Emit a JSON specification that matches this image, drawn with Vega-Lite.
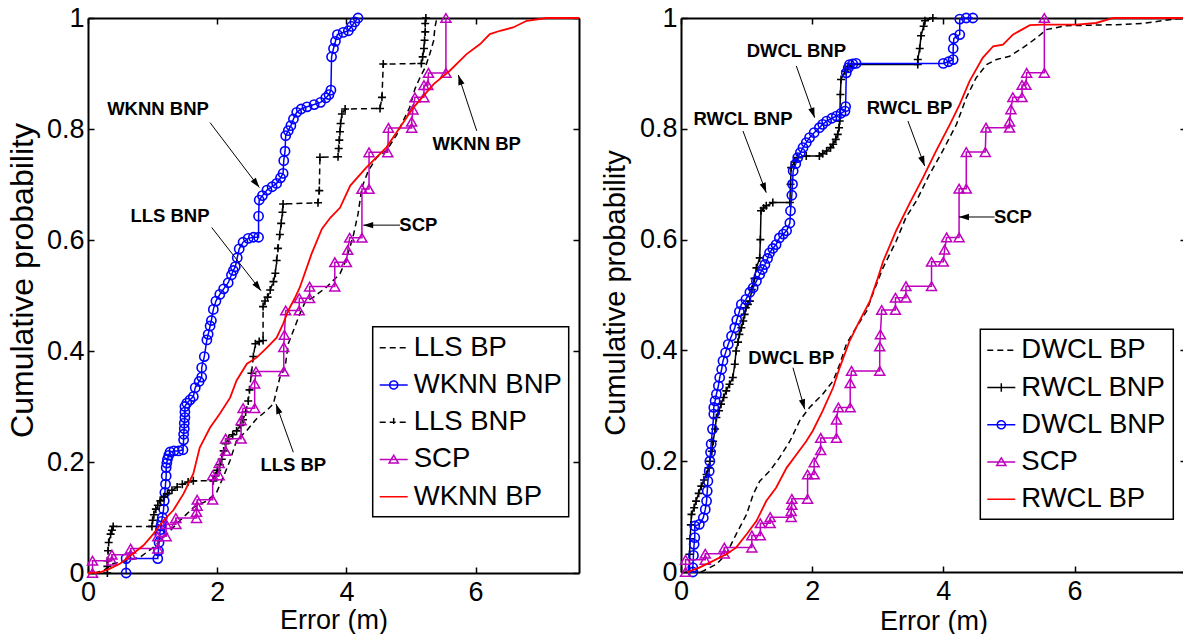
{
  "$schema": "https://vega.github.io/schema/vega-lite/v6.json",
  "background": "white",
  "padding": {"left": 6, "top": 4, "right": 0, "bottom": 0},
  "spacing": 18,
  "config": {
    "font": "Liberation Sans",
    "view": {"stroke": null},
    "axis": {"domainColor": "black", "domainWidth": 2, "tickColor": "black", "tickWidth": 1.5, "tickSize": -6, "labelColor": "black", "titleColor": "black", "labelFont": "Liberation Sans", "titleFont": "Liberation Sans", "labelFontSize": 27, "titleFontWeight": "normal", "grid": false, "labelFlush": false, "labelOverlap": false},
    "legend": {"strokeWidth": 1.5}
  },
  "datasets": {
    "L": [
      {"s":"LLS BP","x":0.1,"y":0},{"s":"LLS BP","x":0.25,"y":0.005},{"s":"LLS BP","x":0.39,"y":0.017},{"s":"LLS BP","x":0.6,"y":0.022},{"s":"LLS BP","x":0.8,"y":0.028},{"s":"LLS BP","x":1.01,"y":0.046},{"s":"LLS BP","x":1.22,"y":0.07},{"s":"LLS BP","x":1.42,"y":0.094},{"s":"LLS BP","x":1.63,"y":0.118},{"s":"LLS BP","x":1.84,"y":0.13},{"s":"LLS BP","x":1.99,"y":0.145},{"s":"LLS BP","x":2.09,"y":0.172},{"s":"LLS BP","x":2.2,"y":0.203},{"s":"LLS BP","x":2.3,"y":0.239},{"s":"LLS BP","x":2.46,"y":0.257},{"s":"LLS BP","x":2.61,"y":0.278},{"s":"LLS BP","x":2.77,"y":0.293},{"s":"LLS BP","x":2.87,"y":0.305},{"s":"LLS BP","x":2.92,"y":0.329},{"s":"LLS BP","x":2.97,"y":0.352},{"s":"LLS BP","x":3.05,"y":0.37},{"s":"LLS BP","x":3.1,"y":0.413},{"s":"LLS BP","x":3.18,"y":0.437},{"s":"LLS BP","x":3.28,"y":0.467},{"s":"LLS BP","x":3.36,"y":0.488},{"s":"LLS BP","x":3.49,"y":0.497},{"s":"LLS BP","x":3.69,"y":0.515},{"s":"LLS BP","x":3.9,"y":0.539},{"s":"LLS BP","x":3.98,"y":0.56},{"s":"LLS BP","x":4.05,"y":0.585},{"s":"LLS BP","x":4.11,"y":0.61},{"s":"LLS BP","x":4.18,"y":0.647},{"s":"LLS BP","x":4.24,"y":0.695},{"s":"LLS BP","x":4.34,"y":0.725},{"s":"LLS BP","x":4.47,"y":0.749},{"s":"LLS BP","x":4.62,"y":0.761},{"s":"LLS BP","x":4.78,"y":0.79},{"s":"LLS BP","x":4.88,"y":0.815},{"s":"LLS BP","x":4.98,"y":0.839},{"s":"LLS BP","x":5.06,"y":0.872},{"s":"LLS BP","x":5.14,"y":0.893},{"s":"LLS BP","x":5.22,"y":0.911},{"s":"LLS BP","x":5.29,"y":0.935},{"s":"LLS BP","x":5.35,"y":0.959},{"s":"LLS BP","x":5.37,"y":0.983},{"s":"LLS BP","x":5.4,"y":1},

      {"s":"WKNN BNP","x":0.59,"y":0},{"s":"WKNN BNP","x":0.59,"y":0.026},{"s":"WKNN BNP","x":1.08,"y":0.026},{"s":"WKNN BNP","x":1.09,"y":0.04},{"s":"WKNN BNP","x":1.1,"y":0.055},{"s":"WKNN BNP","x":1.11,"y":0.07},{"s":"WKNN BNP","x":1.12,"y":0.078},{"s":"WKNN BNP","x":1.13,"y":0.085},{"s":"WKNN BNP","x":1.14,"y":0.093},{"s":"WKNN BNP","x":1.15,"y":0.1},{"s":"WKNN BNP","x":1.17,"y":0.115},{"s":"WKNN BNP","x":1.18,"y":0.13},{"s":"WKNN BNP","x":1.19,"y":0.145},{"s":"WKNN BNP","x":1.2,"y":0.16},{"s":"WKNN BNP","x":1.21,"y":0.175},{"s":"WKNN BNP","x":1.21,"y":0.19},{"s":"WKNN BNP","x":1.22,"y":0.198},{"s":"WKNN BNP","x":1.23,"y":0.205},{"s":"WKNN BNP","x":1.25,"y":0.212},{"s":"WKNN BNP","x":1.27,"y":0.218},{"s":"WKNN BNP","x":1.33,"y":0.22},{"s":"WKNN BNP","x":1.4,"y":0.22},{"s":"WKNN BNP","x":1.47,"y":0.222},{"s":"WKNN BNP","x":1.48,"y":0.24},{"s":"WKNN BNP","x":1.48,"y":0.25},{"s":"WKNN BNP","x":1.49,"y":0.26},{"s":"WKNN BNP","x":1.49,"y":0.27},{"s":"WKNN BNP","x":1.5,"y":0.28},{"s":"WKNN BNP","x":1.5,"y":0.29},{"s":"WKNN BNP","x":1.5,"y":0.3},{"s":"WKNN BNP","x":1.53,"y":0.306},{"s":"WKNN BNP","x":1.58,"y":0.312},{"s":"WKNN BNP","x":1.63,"y":0.318},{"s":"WKNN BNP","x":1.66,"y":0.334},{"s":"WKNN BNP","x":1.72,"y":0.345},{"s":"WKNN BNP","x":1.76,"y":0.353},{"s":"WKNN BNP","x":1.76,"y":0.37},{"s":"WKNN BNP","x":1.8,"y":0.39},{"s":"WKNN BNP","x":1.84,"y":0.42},{"s":"WKNN BNP","x":1.86,"y":0.43},{"s":"WKNN BNP","x":1.89,"y":0.445},{"s":"WKNN BNP","x":1.91,"y":0.455},{"s":"WKNN BNP","x":1.94,"y":0.475},{"s":"WKNN BNP","x":1.98,"y":0.49},{"s":"WKNN BNP","x":2.04,"y":0.502},{"s":"WKNN BNP","x":2.1,"y":0.512},{"s":"WKNN BNP","x":2.17,"y":0.523},{"s":"WKNN BNP","x":2.22,"y":0.537},{"s":"WKNN BNP","x":2.25,"y":0.545},{"s":"WKNN BNP","x":2.28,"y":0.552},{"s":"WKNN BNP","x":2.31,"y":0.568},{"s":"WKNN BNP","x":2.34,"y":0.584},{"s":"WKNN BNP","x":2.4,"y":0.596},{"s":"WKNN BNP","x":2.48,"y":0.603},{"s":"WKNN BNP","x":2.56,"y":0.605},{"s":"WKNN BNP","x":2.64,"y":0.605},{"s":"WKNN BNP","x":2.64,"y":0.643},{"s":"WKNN BNP","x":2.65,"y":0.672},{"s":"WKNN BNP","x":2.7,"y":0.68},{"s":"WKNN BNP","x":2.77,"y":0.69},{"s":"WKNN BNP","x":2.85,"y":0.696},{"s":"WKNN BNP","x":2.92,"y":0.702},{"s":"WKNN BNP","x":2.98,"y":0.712},{"s":"WKNN BNP","x":3.02,"y":0.72},{"s":"WKNN BNP","x":3.03,"y":0.743},{"s":"WKNN BNP","x":3.05,"y":0.76},{"s":"WKNN BNP","x":3.06,"y":0.788},{"s":"WKNN BNP","x":3.1,"y":0.797},{"s":"WKNN BNP","x":3.14,"y":0.806},{"s":"WKNN BNP","x":3.18,"y":0.818},{"s":"WKNN BNP","x":3.23,"y":0.83},{"s":"WKNN BNP","x":3.3,"y":0.836},{"s":"WKNN BNP","x":3.39,"y":0.84},{"s":"WKNN BNP","x":3.5,"y":0.844},{"s":"WKNN BNP","x":3.6,"y":0.848},{"s":"WKNN BNP","x":3.68,"y":0.856},{"s":"WKNN BNP","x":3.73,"y":0.862},{"s":"WKNN BNP","x":3.76,"y":0.87},{"s":"WKNN BNP","x":3.77,"y":0.93},{"s":"WKNN BNP","x":3.8,"y":0.945},{"s":"WKNN BNP","x":3.83,"y":0.958},{"s":"WKNN BNP","x":3.86,"y":0.97},{"s":"WKNN BNP","x":3.95,"y":0.974},{"s":"WKNN BNP","x":4.03,"y":0.977},{"s":"WKNN BNP","x":4.08,"y":0.985},{"s":"WKNN BNP","x":4.13,"y":0.993},{"s":"WKNN BNP","x":4.18,"y":1},

      {"s":"LLS BNP","x":0.3,"y":0},{"s":"LLS BNP","x":0.3,"y":0.012},{"s":"LLS BNP","x":0.3,"y":0.022},{"s":"LLS BNP","x":0.31,"y":0.04},{"s":"LLS BNP","x":0.32,"y":0.055},{"s":"LLS BNP","x":0.35,"y":0.07},{"s":"LLS BNP","x":0.37,"y":0.077},{"s":"LLS BNP","x":0.39,"y":0.084},{"s":"LLS BNP","x":0.99,"y":0.084},{"s":"LLS BNP","x":1.0,"y":0.095},{"s":"LLS BNP","x":1.02,"y":0.105},{"s":"LLS BNP","x":1.05,"y":0.115},{"s":"LLS BNP","x":1.08,"y":0.122},{"s":"LLS BNP","x":1.12,"y":0.13},{"s":"LLS BNP","x":1.17,"y":0.137},{"s":"LLS BNP","x":1.23,"y":0.143},{"s":"LLS BNP","x":1.3,"y":0.149},{"s":"LLS BNP","x":1.38,"y":0.155},{"s":"LLS BNP","x":1.46,"y":0.16},{"s":"LLS BNP","x":1.55,"y":0.164},{"s":"LLS BNP","x":1.63,"y":0.166},{"s":"LLS BNP","x":1.94,"y":0.166},{"s":"LLS BNP","x":1.97,"y":0.175},{"s":"LLS BNP","x":2.0,"y":0.185},{"s":"LLS BNP","x":2.04,"y":0.195},{"s":"LLS BNP","x":2.07,"y":0.205},{"s":"LLS BNP","x":2.1,"y":0.22},{"s":"LLS BNP","x":2.13,"y":0.233},{"s":"LLS BNP","x":2.18,"y":0.242},{"s":"LLS BNP","x":2.24,"y":0.249},{"s":"LLS BNP","x":2.3,"y":0.256},{"s":"LLS BNP","x":2.36,"y":0.266},{"s":"LLS BNP","x":2.4,"y":0.276},{"s":"LLS BNP","x":2.44,"y":0.29},{"s":"LLS BNP","x":2.48,"y":0.31},{"s":"LLS BNP","x":2.5,"y":0.33},{"s":"LLS BNP","x":2.53,"y":0.36},{"s":"LLS BNP","x":2.56,"y":0.39},{"s":"LLS BNP","x":2.59,"y":0.413},{"s":"LLS BNP","x":2.65,"y":0.417},{"s":"LLS BNP","x":2.71,"y":0.419},{"s":"LLS BNP","x":2.71,"y":0.48},{"s":"LLS BNP","x":2.74,"y":0.49},{"s":"LLS BNP","x":2.78,"y":0.497},{"s":"LLS BNP","x":2.82,"y":0.51},{"s":"LLS BNP","x":2.87,"y":0.525},{"s":"LLS BNP","x":2.9,"y":0.54},{"s":"LLS BNP","x":2.92,"y":0.563},{"s":"LLS BNP","x":2.94,"y":0.585},{"s":"LLS BNP","x":2.97,"y":0.61},{"s":"LLS BNP","x":2.99,"y":0.63},{"s":"LLS BNP","x":3.01,"y":0.65},{"s":"LLS BNP","x":3.02,"y":0.665},{"s":"LLS BNP","x":3.56,"y":0.667},{"s":"LLS BNP","x":3.58,"y":0.689},{"s":"LLS BNP","x":3.59,"y":0.749},{"s":"LLS BNP","x":3.87,"y":0.75},{"s":"LLS BNP","x":3.88,"y":0.765},{"s":"LLS BNP","x":3.89,"y":0.78},{"s":"LLS BNP","x":3.9,"y":0.795},{"s":"LLS BNP","x":3.91,"y":0.81},{"s":"LLS BNP","x":3.93,"y":0.827},{"s":"LLS BNP","x":3.98,"y":0.836},{"s":"LLS BNP","x":4.52,"y":0.837},{"s":"LLS BNP","x":4.55,"y":0.857},{"s":"LLS BNP","x":4.57,"y":0.917},{"s":"LLS BNP","x":5.16,"y":0.918},{"s":"LLS BNP","x":5.18,"y":0.93},{"s":"LLS BNP","x":5.2,"y":0.945},{"s":"LLS BNP","x":5.21,"y":0.96},{"s":"LLS BNP","x":5.22,"y":0.975},{"s":"LLS BNP","x":5.22,"y":0.99},{"s":"LLS BNP","x":5.23,"y":1},

      {"s":"WKNN BP","x":0.0,"y":0},{"s":"WKNN BP","x":0.19,"y":0.001},{"s":"WKNN BP","x":0.34,"y":0.008},{"s":"WKNN BP","x":0.5,"y":0.017},{"s":"WKNN BP","x":0.7,"y":0.035},{"s":"WKNN BP","x":0.86,"y":0.05},{"s":"WKNN BP","x":1.01,"y":0.07},{"s":"WKNN BP","x":1.17,"y":0.095},{"s":"WKNN BP","x":1.32,"y":0.113},{"s":"WKNN BP","x":1.48,"y":0.143},{"s":"WKNN BP","x":1.63,"y":0.179},{"s":"WKNN BP","x":1.73,"y":0.226},{"s":"WKNN BP","x":1.89,"y":0.262},{"s":"WKNN BP","x":2.04,"y":0.287},{"s":"WKNN BP","x":2.2,"y":0.316},{"s":"WKNN BP","x":2.3,"y":0.347},{"s":"WKNN BP","x":2.46,"y":0.377},{"s":"WKNN BP","x":2.61,"y":0.388},{"s":"WKNN BP","x":2.77,"y":0.406},{"s":"WKNN BP","x":2.92,"y":0.424},{"s":"WKNN BP","x":3.02,"y":0.449},{"s":"WKNN BP","x":3.1,"y":0.473},{"s":"WKNN BP","x":3.2,"y":0.495},{"s":"WKNN BP","x":3.28,"y":0.515},{"s":"WKNN BP","x":3.46,"y":0.575},{"s":"WKNN BP","x":3.62,"y":0.62},{"s":"WKNN BP","x":3.75,"y":0.64},{"s":"WKNN BP","x":3.9,"y":0.658},{"s":"WKNN BP","x":4.06,"y":0.698},{"s":"WKNN BP","x":4.31,"y":0.731},{"s":"WKNN BP","x":4.62,"y":0.767},{"s":"WKNN BP","x":4.83,"y":0.803},{"s":"WKNN BP","x":5.04,"y":0.839},{"s":"WKNN BP","x":5.35,"y":0.881},{"s":"WKNN BP","x":5.6,"y":0.905},{"s":"WKNN BP","x":5.86,"y":0.935},{"s":"WKNN BP","x":6.07,"y":0.953},{"s":"WKNN BP","x":6.22,"y":0.971},{"s":"WKNN BP","x":6.38,"y":0.977},{"s":"WKNN BP","x":6.58,"y":0.983},{"s":"WKNN BP","x":6.79,"y":0.995},{"s":"WKNN BP","x":7.1,"y":1},{"s":"WKNN BP","x":7.6,"y":1}
    ],
    "S": [
      {"x":0.07,"y":0},{"x":0.07,"y":0.022},{"x":0.37,"y":0.022},{"x":0.37,"y":0.033},{"x":0.66,"y":0.033},{"x":0.66,"y":0.044},{"x":1.08,"y":0.044},{"x":1.08,"y":0.066},{"x":1.21,"y":0.066},{"x":1.21,"y":0.088},{"x":1.36,"y":0.088},{"x":1.36,"y":0.099},{"x":1.68,"y":0.099},{"x":1.68,"y":0.11},{"x":1.69,"y":0.121},{"x":1.69,"y":0.132},{"x":1.93,"y":0.132},{"x":1.93,"y":0.176},{"x":2.03,"y":0.176},{"x":2.03,"y":0.198},{"x":2.13,"y":0.22},{"x":2.13,"y":0.242},{"x":2.37,"y":0.242},{"x":2.37,"y":0.275},{"x":2.4,"y":0.297},{"x":2.58,"y":0.297},{"x":2.58,"y":0.341},{"x":2.6,"y":0.363},{"x":3.03,"y":0.363},{"x":3.03,"y":0.407},{"x":3.04,"y":0.429},{"x":3.06,"y":0.473},{"x":3.27,"y":0.473},{"x":3.27,"y":0.495},{"x":3.43,"y":0.495},{"x":3.43,"y":0.516},{"x":3.82,"y":0.516},{"x":3.82,"y":0.56},{"x":4.0,"y":0.56},{"x":4.02,"y":0.582},{"x":4.05,"y":0.604},{"x":4.24,"y":0.604},{"x":4.24,"y":0.692},{"x":4.35,"y":0.692},{"x":4.35,"y":0.758},{"x":4.64,"y":0.758},{"x":4.65,"y":0.802},{"x":5.01,"y":0.802},{"x":5.01,"y":0.813},{"x":5.03,"y":0.835},{"x":5.06,"y":0.857},{"x":5.2,"y":0.857},{"x":5.2,"y":0.879},{"x":5.26,"y":0.879},{"x":5.27,"y":0.901},{"x":5.54,"y":0.901},{"x":5.54,"y":1}
    ],
    "R": [
      {"s":"DWCL BP","x":0.3,"y":0},{"s":"DWCL BP","x":0.34,"y":0.002},{"s":"DWCL BP","x":0.54,"y":0.014},{"s":"DWCL BP","x":0.69,"y":0.032},{"s":"DWCL BP","x":0.84,"y":0.068},{"s":"DWCL BP","x":1.0,"y":0.104},{"s":"DWCL BP","x":1.1,"y":0.14},{"s":"DWCL BP","x":1.2,"y":0.164},{"s":"DWCL BP","x":1.35,"y":0.182},{"s":"DWCL BP","x":1.5,"y":0.206},{"s":"DWCL BP","x":1.66,"y":0.236},{"s":"DWCL BP","x":1.81,"y":0.273},{"s":"DWCL BP","x":1.96,"y":0.297},{"s":"DWCL BP","x":2.16,"y":0.321},{"s":"DWCL BP","x":2.32,"y":0.345},{"s":"DWCL BP","x":2.42,"y":0.375},{"s":"DWCL BP","x":2.52,"y":0.411},{"s":"DWCL BP","x":2.67,"y":0.441},{"s":"DWCL BP","x":2.83,"y":0.471},{"s":"DWCL BP","x":2.95,"y":0.51},{"s":"DWCL BP","x":3.08,"y":0.549},{"s":"DWCL BP","x":3.28,"y":0.597},{"s":"DWCL BP","x":3.43,"y":0.64},{"s":"DWCL BP","x":3.59,"y":0.67},{"s":"DWCL BP","x":3.79,"y":0.718},{"s":"DWCL BP","x":3.99,"y":0.76},{"s":"DWCL BP","x":4.2,"y":0.808},{"s":"DWCL BP","x":4.35,"y":0.856},{"s":"DWCL BP","x":4.5,"y":0.892},{"s":"DWCL BP","x":4.66,"y":0.916},{"s":"DWCL BP","x":4.81,"y":0.925},{"s":"DWCL BP","x":5.01,"y":0.931},{"s":"DWCL BP","x":5.21,"y":0.946},{"s":"DWCL BP","x":5.42,"y":0.964},{"s":"DWCL BP","x":5.57,"y":0.979},{"s":"DWCL BP","x":5.87,"y":0.986},{"s":"DWCL BP","x":6.23,"y":0.987},{"s":"DWCL BP","x":6.64,"y":0.988},{"s":"DWCL BP","x":7.04,"y":0.99},{"s":"DWCL BP","x":7.45,"y":0.997},{"s":"DWCL BP","x":7.7,"y":1},

      {"s":"RWCL BNP","x":0.13,"y":0},{"s":"RWCL BNP","x":0.13,"y":0.032},{"s":"RWCL BNP","x":0.14,"y":0.06},{"s":"RWCL BNP","x":0.15,"y":0.085},{"s":"RWCL BNP","x":0.16,"y":0.104},{"s":"RWCL BNP","x":0.2,"y":0.116},{"s":"RWCL BNP","x":0.23,"y":0.128},{"s":"RWCL BNP","x":0.27,"y":0.142},{"s":"RWCL BNP","x":0.31,"y":0.155},{"s":"RWCL BNP","x":0.35,"y":0.166},{"s":"RWCL BNP","x":0.39,"y":0.176},{"s":"RWCL BNP","x":0.42,"y":0.188},{"s":"RWCL BNP","x":0.44,"y":0.2},{"s":"RWCL BNP","x":0.47,"y":0.218},{"s":"RWCL BNP","x":0.49,"y":0.236},{"s":"RWCL BNP","x":0.52,"y":0.258},{"s":"RWCL BNP","x":0.54,"y":0.279},{"s":"RWCL BNP","x":0.58,"y":0.291},{"s":"RWCL BNP","x":0.61,"y":0.303},{"s":"RWCL BNP","x":0.65,"y":0.315},{"s":"RWCL BNP","x":0.69,"y":0.327},{"s":"RWCL BNP","x":0.74,"y":0.339},{"s":"RWCL BNP","x":0.79,"y":0.351},{"s":"RWCL BNP","x":0.82,"y":0.375},{"s":"RWCL BNP","x":0.84,"y":0.399},{"s":"RWCL BNP","x":0.87,"y":0.415},{"s":"RWCL BNP","x":0.89,"y":0.429},{"s":"RWCL BNP","x":0.92,"y":0.441},{"s":"RWCL BNP","x":0.95,"y":0.453},{"s":"RWCL BNP","x":0.97,"y":0.465},{"s":"RWCL BNP","x":0.99,"y":0.477},{"s":"RWCL BNP","x":1.02,"y":0.483},{"s":"RWCL BNP","x":1.05,"y":0.489},{"s":"RWCL BNP","x":1.08,"y":0.51},{"s":"RWCL BNP","x":1.12,"y":0.53},{"s":"RWCL BNP","x":1.15,"y":0.549},{"s":"RWCL BNP","x":1.2,"y":0.567},{"s":"RWCL BNP","x":1.21,"y":0.6},{"s":"RWCL BNP","x":1.22,"y":0.652},{"s":"RWCL BNP","x":1.26,"y":0.657},{"s":"RWCL BNP","x":1.3,"y":0.661},{"s":"RWCL BNP","x":1.4,"y":0.667},{"s":"RWCL BNP","x":1.66,"y":0.667},{"s":"RWCL BNP","x":1.67,"y":0.7},{"s":"RWCL BNP","x":1.68,"y":0.73},{"s":"RWCL BNP","x":1.73,"y":0.74},{"s":"RWCL BNP","x":1.78,"y":0.748},{"s":"RWCL BNP","x":1.91,"y":0.751},{"s":"RWCL BNP","x":2.11,"y":0.751},{"s":"RWCL BNP","x":2.16,"y":0.755},{"s":"RWCL BNP","x":2.22,"y":0.76},{"s":"RWCL BNP","x":2.28,"y":0.766},{"s":"RWCL BNP","x":2.32,"y":0.772},{"s":"RWCL BNP","x":2.36,"y":0.781},{"s":"RWCL BNP","x":2.39,"y":0.79},{"s":"RWCL BNP","x":2.41,"y":0.802},{"s":"RWCL BNP","x":2.42,"y":0.814},{"s":"RWCL BNP","x":2.43,"y":0.862},{"s":"RWCL BNP","x":2.44,"y":0.889},{"s":"RWCL BNP","x":2.5,"y":0.904},{"s":"RWCL BNP","x":2.55,"y":0.913},{"s":"RWCL BNP","x":2.6,"y":0.916},{"s":"RWCL BNP","x":3.61,"y":0.916},{"s":"RWCL BNP","x":3.61,"y":0.925},{"s":"RWCL BNP","x":3.64,"y":0.945},{"s":"RWCL BNP","x":3.66,"y":0.968},{"s":"RWCL BNP","x":3.7,"y":0.985},{"s":"RWCL BNP","x":3.72,"y":0.995},{"s":"RWCL BNP","x":3.84,"y":1},

      {"s":"DWCL BNP","x":0.18,"y":0},{"s":"DWCL BNP","x":0.18,"y":0.008},{"s":"DWCL BNP","x":0.19,"y":0.03},{"s":"DWCL BNP","x":0.2,"y":0.05},{"s":"DWCL BNP","x":0.21,"y":0.062},{"s":"DWCL BNP","x":0.21,"y":0.083},{"s":"DWCL BNP","x":0.28,"y":0.086},{"s":"DWCL BNP","x":0.34,"y":0.098},{"s":"DWCL BNP","x":0.37,"y":0.113},{"s":"DWCL BNP","x":0.39,"y":0.128},{"s":"DWCL BNP","x":0.4,"y":0.146},{"s":"DWCL BNP","x":0.41,"y":0.164},{"s":"DWCL BNP","x":0.43,"y":0.182},{"s":"DWCL BNP","x":0.44,"y":0.2},{"s":"DWCL BNP","x":0.45,"y":0.216},{"s":"DWCL BNP","x":0.46,"y":0.231},{"s":"DWCL BNP","x":0.48,"y":0.258},{"s":"DWCL BNP","x":0.5,"y":0.285},{"s":"DWCL BNP","x":0.5,"y":0.297},{"s":"DWCL BNP","x":0.52,"y":0.309},{"s":"DWCL BNP","x":0.54,"y":0.321},{"s":"DWCL BNP","x":0.57,"y":0.336},{"s":"DWCL BNP","x":0.59,"y":0.351},{"s":"DWCL BNP","x":0.62,"y":0.366},{"s":"DWCL BNP","x":0.64,"y":0.381},{"s":"DWCL BNP","x":0.68,"y":0.396},{"s":"DWCL BNP","x":0.72,"y":0.411},{"s":"DWCL BNP","x":0.77,"y":0.426},{"s":"DWCL BNP","x":0.82,"y":0.441},{"s":"DWCL BNP","x":0.85,"y":0.455},{"s":"DWCL BNP","x":0.89,"y":0.47},{"s":"DWCL BNP","x":0.92,"y":0.483},{"s":"DWCL BNP","x":0.99,"y":0.492},{"s":"DWCL BNP","x":1.05,"y":0.505},{"s":"DWCL BNP","x":1.1,"y":0.513},{"s":"DWCL BNP","x":1.15,"y":0.525},{"s":"DWCL BNP","x":1.2,"y":0.537},{"s":"DWCL BNP","x":1.24,"y":0.546},{"s":"DWCL BNP","x":1.28,"y":0.555},{"s":"DWCL BNP","x":1.32,"y":0.566},{"s":"DWCL BNP","x":1.35,"y":0.576},{"s":"DWCL BNP","x":1.4,"y":0.584},{"s":"DWCL BNP","x":1.45,"y":0.591},{"s":"DWCL BNP","x":1.5,"y":0.603},{"s":"DWCL BNP","x":1.56,"y":0.61},{"s":"DWCL BNP","x":1.61,"y":0.616},{"s":"DWCL BNP","x":1.66,"y":0.63},{"s":"DWCL BNP","x":1.67,"y":0.652},{"s":"DWCL BNP","x":1.69,"y":0.68},{"s":"DWCL BNP","x":1.7,"y":0.7},{"s":"DWCL BNP","x":1.71,"y":0.724},{"s":"DWCL BNP","x":1.75,"y":0.737},{"s":"DWCL BNP","x":1.78,"y":0.748},{"s":"DWCL BNP","x":1.82,"y":0.757},{"s":"DWCL BNP","x":1.86,"y":0.766},{"s":"DWCL BNP","x":1.91,"y":0.775},{"s":"DWCL BNP","x":1.96,"y":0.784},{"s":"DWCL BNP","x":2.03,"y":0.793},{"s":"DWCL BNP","x":2.11,"y":0.802},{"s":"DWCL BNP","x":2.16,"y":0.808},{"s":"DWCL BNP","x":2.22,"y":0.814},{"s":"DWCL BNP","x":2.3,"y":0.819},{"s":"DWCL BNP","x":2.37,"y":0.823},{"s":"DWCL BNP","x":2.44,"y":0.828},{"s":"DWCL BNP","x":2.5,"y":0.832},{"s":"DWCL BNP","x":2.51,"y":0.84},{"s":"DWCL BNP","x":2.52,"y":0.901},{"s":"DWCL BNP","x":2.55,"y":0.91},{"s":"DWCL BNP","x":2.57,"y":0.916},{"s":"DWCL BNP","x":2.62,"y":0.917},{"s":"DWCL BNP","x":2.67,"y":0.918},{"s":"DWCL BNP","x":4.0,"y":0.918},{"s":"DWCL BNP","x":4.08,"y":0.921},{"s":"DWCL BNP","x":4.15,"y":0.925},{"s":"DWCL BNP","x":4.15,"y":0.945},{"s":"DWCL BNP","x":4.16,"y":0.963},{"s":"DWCL BNP","x":4.25,"y":0.97},{"s":"DWCL BNP","x":4.25,"y":0.998},{"s":"DWCL BNP","x":4.35,"y":1},{"s":"DWCL BNP","x":4.45,"y":1},

      {"s":"RWCL BP","x":0.1,"y":0},{"s":"RWCL BP","x":0.28,"y":0.008},{"s":"RWCL BP","x":0.49,"y":0.02},{"s":"RWCL BP","x":0.69,"y":0.032},{"s":"RWCL BP","x":0.84,"y":0.044},{"s":"RWCL BP","x":1.0,"y":0.068},{"s":"RWCL BP","x":1.15,"y":0.092},{"s":"RWCL BP","x":1.3,"y":0.128},{"s":"RWCL BP","x":1.45,"y":0.152},{"s":"RWCL BP","x":1.61,"y":0.188},{"s":"RWCL BP","x":1.76,"y":0.212},{"s":"RWCL BP","x":1.91,"y":0.236},{"s":"RWCL BP","x":2.01,"y":0.255},{"s":"RWCL BP","x":2.16,"y":0.291},{"s":"RWCL BP","x":2.32,"y":0.333},{"s":"RWCL BP","x":2.42,"y":0.369},{"s":"RWCL BP","x":2.57,"y":0.417},{"s":"RWCL BP","x":2.72,"y":0.453},{"s":"RWCL BP","x":2.88,"y":0.489},{"s":"RWCL BP","x":3.0,"y":0.53},{"s":"RWCL BP","x":3.08,"y":0.56},{"s":"RWCL BP","x":3.28,"y":0.616},{"s":"RWCL BP","x":3.48,"y":0.664},{"s":"RWCL BP","x":3.69,"y":0.712},{"s":"RWCL BP","x":3.89,"y":0.76},{"s":"RWCL BP","x":4.1,"y":0.808},{"s":"RWCL BP","x":4.25,"y":0.844},{"s":"RWCL BP","x":4.4,"y":0.886},{"s":"RWCL BP","x":4.6,"y":0.928},{"s":"RWCL BP","x":4.76,"y":0.949},{"s":"RWCL BP","x":4.91,"y":0.952},{"s":"RWCL BP","x":5.06,"y":0.97},{"s":"RWCL BP","x":5.32,"y":0.987},{"s":"RWCL BP","x":5.52,"y":0.988},{"s":"RWCL BP","x":6.03,"y":0.988},{"s":"RWCL BP","x":6.33,"y":0.991},{"s":"RWCL BP","x":6.59,"y":1},{"s":"RWCL BP","x":7.7,"y":1}
    ],
    "AL": [
      {"t":"WKNN BNP","tx":1.084,"ty":0.836,"x":1.889,"y":0.8115,"x2":2.652,"y2":0.6945,"a":142.8},
      {"t":"LLS BNP","tx":1.269,"ty":0.6436,"x":1.915,"y":0.6225,"x2":2.678,"y2":0.5086,"a":142.1},
      {"t":"WKNN BP","tx":6.017,"ty":0.7726,"x":6.017,"y":0.7966,"x2":5.732,"y2":0.8974,"a":-18.2},
      {"t":"SCP","tx":5.113,"ty":0.6268,"x":4.83,"y":0.6268,"x2":4.26,"y2":0.6268,"a":-90},
      {"t":"LLS BP","tx":3.178,"ty":0.1948,"x":3.178,"y":0.2175,"x2":2.91,"y2":0.3046,"a":-19.7}
    ],
    "AR": [
      {"t":"DWCL BNP","tx":1.758,"ty":0.9404,"x":1.758,"y":0.9134,"x2":2.038,"y2":0.82,"a":160.4},
      {"t":"RWCL BNP","tx":0.945,"ty":0.8172,"x":0.945,"y":0.796,"x2":1.3,"y2":0.6847,"a":159.3},
      {"t":"RWCL BP","tx":3.486,"ty":0.838,"x":3.46,"y":0.814,"x2":3.715,"y2":0.733,"a":159.6},
      {"t":"SCP","tx":5.061,"ty":0.6408,"x":4.782,"y":0.6408,"x2":4.238,"y2":0.6408,"a":-90},
      {"t":"DWCL BP","tx":1.681,"ty":0.3868,"x":1.707,"y":0.3688,"x2":1.886,"y2":0.2937,"a":164.3}
    ]
  },
  "resolve": {
    "scale": {"x": "independent", "y": "independent", "color": "independent", "shape": "independent", "strokeDash": "independent"},
    "legend": {"color": "independent", "shape": "independent", "strokeDash": "independent"}
  },
  "hconcat": [
    {
      "width": 491, "height": 555,
      "encoding": {
        "x": {"field": "x", "type": "quantitative", "scale": {"domain": [0, 7.6], "nice": false, "zero": false}, "axis": null},
        "y": {"field": "y", "type": "quantitative", "scale": {"domain": [0, 1], "nice": false, "zero": false}, "axis": null}
      },
      "resolve": {"axis": {"x": "independent", "y": "independent"}},
      "layer": [
        {"data": {"values": []}, "mark": "rule", "encoding": {
          "x": {"field": "x", "type": "quantitative", "scale": {"domain": [0, 7.6], "nice": false, "zero": false}, "axis": {"orient": "bottom", "values": [0, 2, 4, 6], "title": "Error (m)", "titleFontSize": 27, "titleY": 55, "titleBaseline": "alphabetic", "labelPadding": 12}},
          "y": {"field": "y", "type": "quantitative", "scale": {"domain": [0, 1], "nice": false, "zero": false}, "axis": {"orient": "left", "values": [0, 0.2, 0.4, 0.6, 0.8, 1], "format": "~g", "title": "Cumulative probability", "titleFontSize": 32, "titleX": -65.5, "titleY": 262, "titleBaseline": "middle", "labelPadding": 10}}
        }},
        {"data": {"values": []}, "mark": "rule", "encoding": {
          "x": {"field": "x", "type": "quantitative", "scale": {"domain": [0, 7.6], "nice": false, "zero": false}, "axis": {"orient": "top", "values": [0, 2, 4, 6], "labels": false, "title": null}},
          "y": {"field": "y", "type": "quantitative", "scale": {"domain": [0, 1], "nice": false, "zero": false}, "axis": {"orient": "right", "values": [0, 0.2, 0.4, 0.6, 0.8, 1], "labels": false, "title": null}}
        }},
        {"data": {"name": "L"}, "transform": [{"filter": "datum.s == 'LLS BP'"}], "mark": {"type": "line", "color": "black", "strokeWidth": 1.5, "strokeDash": [6, 4]}, "encoding": {"order": {"value": null}}},
        {"data": {"name": "L"}, "transform": [{"filter": "datum.s == 'WKNN BNP'"}], "mark": {"type": "line", "color": "#0000FF", "strokeWidth": 1.5}, "encoding": {"order": {"value": null}}},
        {"data": {"name": "L"}, "transform": [{"filter": "datum.s == 'WKNN BNP'"}], "mark": {"type": "point", "shape": "circle", "size": 85, "filled": false, "opacity": 1, "color": "#0000FF", "strokeWidth": 1.6}},
        {"data": {"name": "L"}, "transform": [{"filter": "datum.s == 'LLS BNP'"}], "mark": {"type": "line", "color": "black", "strokeWidth": 1.5, "strokeDash": [6, 4]}, "encoding": {"order": {"value": null}}},
        {"data": {"name": "L"}, "transform": [{"filter": "datum.s == 'LLS BNP'"}], "mark": {"type": "point", "shape": "M-1,0H1M0,-1V1", "size": 64, "filled": false, "opacity": 1, "color": "black", "strokeWidth": 1.6}},
        {"data": {"name": "S"}, "mark": {"type": "line", "color": "#BF00BF", "strokeWidth": 1.5}, "encoding": {"order": {"value": null}}},
        {"data": {"name": "S"}, "mark": {"type": "point", "shape": "triangle-up", "size": 100, "filled": false, "opacity": 1, "color": "#BF00BF", "strokeWidth": 1.5}},
        {"data": {"name": "L"}, "transform": [{"filter": "datum.s == 'WKNN BP'"}], "mark": {"type": "line", "color": "#FF0000", "strokeWidth": 1.8}, "encoding": {"order": {"value": null}}},
        {"data": {"values": []}, "mark": {"type": "point", "filled": false, "opacity": 1, "strokeWidth": 1.5}, "encoding": {
          "color": {"field": "s", "type": "nominal", "scale": {"domain": ["LLS BP", "WKNN BNP", "LLS BNP", "SCP", "WKNN BP"], "range": ["black", "#0000FF", "black", "#BF00BF", "#FF0000"]},
            "legend": {"orient": "none", "legendX": 284.7, "legendY": 308.7, "title": null, "padding": 6, "strokeColor": "black", "fillColor": "white", "labelFontSize": 27.5, "labelFont": "Liberation Sans", "labelColor": "black", "labelLimit": 400, "symbolSize": 784, "symbolStrokeWidth": 1.5, "labelOffset": 5, "rowPadding": 8.25, "symbolOpacity": 1, "cornerRadius": 0}},
          "shape": {"field": "s", "type": "nominal", "scale": {"domain": ["LLS BP", "WKNN BNP", "LLS BNP", "SCP", "WKNN BP"], "range": ["M-1,0H1", "M-1,0H1M-0.29,0A0.29,0.29 0 1,0 0.29,0A0.29,0.29 0 1,0 -0.29,0", "M-1,0H1M0,-0.3V0.3", "M-1,0H1M0,-0.3L0.33,0.25L-0.33,0.25Z", "M-1,0H1"]},
            "legend": {"orient": "none", "legendX": 284.7, "legendY": 308.7, "title": null, "padding": 6, "strokeColor": "black", "fillColor": "white", "labelFontSize": 27.5, "labelFont": "Liberation Sans", "labelColor": "black", "labelLimit": 400, "symbolSize": 784, "symbolStrokeWidth": 1.5, "labelOffset": 5, "rowPadding": 8.25, "symbolOpacity": 1, "cornerRadius": 0}},
          "strokeDash": {"field": "s", "type": "nominal", "scale": {"domain": ["LLS BP", "WKNN BNP", "LLS BNP", "SCP", "WKNN BP"], "range": [[6, 4], [1, 0], [6, 4], [1, 0], [1, 0]]},
            "legend": {"orient": "none", "legendX": 284.7, "legendY": 308.7, "title": null, "padding": 6, "strokeColor": "black", "fillColor": "white", "labelFontSize": 27.5, "labelFont": "Liberation Sans", "labelColor": "black", "labelLimit": 400, "symbolSize": 784, "symbolStrokeWidth": 1.5, "labelOffset": 5, "rowPadding": 8.25, "symbolOpacity": 1, "cornerRadius": 0}}
        }},
        {"data": {"name": "AL"}, "mark": {"type": "rule", "color": "black", "strokeWidth": 1}, "encoding": {"x2": {"field": "x2"}, "y2": {"field": "y2"}}},
        {"data": {"name": "AL"}, "mark": {"type": "point", "shape": "M0,0L-0.32,1L0.32,1Z", "size": 400, "filled": true, "opacity": 1, "color": "black"}, "encoding": {
          "x": {"field": "x2", "type": "quantitative", "axis": null},
          "y": {"field": "y2", "type": "quantitative", "axis": null},
          "angle": {"field": "a", "type": "quantitative", "scale": null}
        }},
        {"data": {"name": "AL"}, "mark": {"type": "text", "font": "Liberation Sans", "fontWeight": "bold", "fontSize": 18.5, "color": "black", "align": "center", "baseline": "middle"}, "encoding": {
          "x": {"field": "tx", "type": "quantitative", "axis": null},
          "y": {"field": "ty", "type": "quantitative", "axis": null},
          "text": {"field": "t"}
        }}
      ]
    },
    {
      "width": 505, "height": 554,
      "encoding": {
        "x": {"field": "x", "type": "quantitative", "scale": {"domain": [0, 7.7], "nice": false, "zero": false}, "axis": null},
        "y": {"field": "y", "type": "quantitative", "scale": {"domain": [0, 1], "nice": false, "zero": false}, "axis": null}
      },
      "resolve": {"axis": {"x": "independent", "y": "independent"}},
      "layer": [
        {"data": {"values": []}, "mark": "rule", "encoding": {
          "x": {"field": "x", "type": "quantitative", "scale": {"domain": [0, 7.7], "nice": false, "zero": false}, "axis": {"orient": "bottom", "values": [0, 2, 4, 6], "title": "Error (m)", "titleFontSize": 27, "titleY": 57, "titleBaseline": "alphabetic", "labelPadding": 12}},
          "y": {"field": "y", "type": "quantitative", "scale": {"domain": [0, 1], "nice": false, "zero": false}, "axis": {"orient": "left", "values": [0, 0.2, 0.4, 0.6, 0.8, 1], "format": "~g", "title": "Cumulative probability", "titleFontSize": 29, "titleX": -65.5, "titleY": 274.5, "titleBaseline": "middle", "labelPadding": 10}}
        }},
        {"data": {"values": []}, "mark": "rule", "encoding": {
          "x": {"field": "x", "type": "quantitative", "scale": {"domain": [0, 7.7], "nice": false, "zero": false}, "axis": {"orient": "top", "values": [0, 2, 4, 6], "labels": false, "title": null}},
          "y": {"field": "y", "type": "quantitative", "scale": {"domain": [0, 1], "nice": false, "zero": false}, "axis": {"orient": "right", "values": [0, 0.2, 0.4, 0.6, 0.8, 1], "labels": false, "title": null}}
        }},
        {"data": {"name": "R"}, "transform": [{"filter": "datum.s == 'DWCL BP'"}], "mark": {"type": "line", "color": "black", "strokeWidth": 1.5, "strokeDash": [6, 4]}, "encoding": {"order": {"value": null}}},
        {"data": {"name": "R"}, "transform": [{"filter": "datum.s == 'RWCL BNP'"}], "mark": {"type": "line", "color": "black", "strokeWidth": 1.5}, "encoding": {"order": {"value": null}}},
        {"data": {"name": "R"}, "transform": [{"filter": "datum.s == 'RWCL BNP'"}], "mark": {"type": "point", "shape": "M-1,0H1M0,-1V1", "size": 64, "filled": false, "opacity": 1, "color": "black", "strokeWidth": 1.6}},
        {"data": {"name": "R"}, "transform": [{"filter": "datum.s == 'DWCL BNP'"}], "mark": {"type": "line", "color": "#0000FF", "strokeWidth": 1.5}, "encoding": {"order": {"value": null}}},
        {"data": {"name": "R"}, "transform": [{"filter": "datum.s == 'DWCL BNP'"}], "mark": {"type": "point", "shape": "circle", "size": 85, "filled": false, "opacity": 1, "color": "#0000FF", "strokeWidth": 1.6}},
        {"data": {"name": "S"}, "mark": {"type": "line", "color": "#BF00BF", "strokeWidth": 1.5}, "encoding": {"order": {"value": null}}},
        {"data": {"name": "S"}, "mark": {"type": "point", "shape": "triangle-up", "size": 100, "filled": false, "opacity": 1, "color": "#BF00BF", "strokeWidth": 1.5}},
        {"data": {"name": "R"}, "transform": [{"filter": "datum.s == 'RWCL BP'"}], "mark": {"type": "line", "color": "#FF0000", "strokeWidth": 1.8}, "encoding": {"order": {"value": null}}},
        {"data": {"values": []}, "mark": {"type": "point", "filled": false, "opacity": 1, "strokeWidth": 1.5}, "encoding": {
          "color": {"field": "s", "type": "nominal", "scale": {"domain": ["DWCL BP", "RWCL BNP", "DWCL BNP", "SCP", "RWCL BP"], "range": ["black", "black", "#0000FF", "#BF00BF", "#FF0000"]},
            "legend": {"orient": "none", "legendX": 299.3, "legendY": 311.3, "title": null, "padding": 6, "strokeColor": "black", "fillColor": "white", "labelFontSize": 27.5, "labelFont": "Liberation Sans", "labelColor": "black", "labelLimit": 400, "symbolSize": 784, "symbolStrokeWidth": 1.5, "labelOffset": 5, "rowPadding": 8.25, "symbolOpacity": 1, "cornerRadius": 0}},
          "shape": {"field": "s", "type": "nominal", "scale": {"domain": ["DWCL BP", "RWCL BNP", "DWCL BNP", "SCP", "RWCL BP"], "range": ["M-1,0H1", "M-1,0H1M0,-0.3V0.3", "M-1,0H1M-0.29,0A0.29,0.29 0 1,0 0.29,0A0.29,0.29 0 1,0 -0.29,0", "M-1,0H1M0,-0.3L0.33,0.25L-0.33,0.25Z", "M-1,0H1"]},
            "legend": {"orient": "none", "legendX": 299.3, "legendY": 311.3, "title": null, "padding": 6, "strokeColor": "black", "fillColor": "white", "labelFontSize": 27.5, "labelFont": "Liberation Sans", "labelColor": "black", "labelLimit": 400, "symbolSize": 784, "symbolStrokeWidth": 1.5, "labelOffset": 5, "rowPadding": 8.25, "symbolOpacity": 1, "cornerRadius": 0}},
          "strokeDash": {"field": "s", "type": "nominal", "scale": {"domain": ["DWCL BP", "RWCL BNP", "DWCL BNP", "SCP", "RWCL BP"], "range": [[6, 4], [1, 0], [1, 0], [1, 0], [1, 0]]},
            "legend": {"orient": "none", "legendX": 299.3, "legendY": 311.3, "title": null, "padding": 6, "strokeColor": "black", "fillColor": "white", "labelFontSize": 27.5, "labelFont": "Liberation Sans", "labelColor": "black", "labelLimit": 400, "symbolSize": 784, "symbolStrokeWidth": 1.5, "labelOffset": 5, "rowPadding": 8.25, "symbolOpacity": 1, "cornerRadius": 0}}
        }},
        {"data": {"name": "AR"}, "mark": {"type": "rule", "color": "black", "strokeWidth": 1}, "encoding": {"x2": {"field": "x2"}, "y2": {"field": "y2"}}},
        {"data": {"name": "AR"}, "mark": {"type": "point", "shape": "M0,0L-0.32,1L0.32,1Z", "size": 400, "filled": true, "opacity": 1, "color": "black"}, "encoding": {
          "x": {"field": "x2", "type": "quantitative", "axis": null},
          "y": {"field": "y2", "type": "quantitative", "axis": null},
          "angle": {"field": "a", "type": "quantitative", "scale": null}
        }},
        {"data": {"name": "AR"}, "mark": {"type": "text", "font": "Liberation Sans", "fontWeight": "bold", "fontSize": 18.5, "color": "black", "align": "center", "baseline": "middle"}, "encoding": {
          "x": {"field": "tx", "type": "quantitative", "axis": null},
          "y": {"field": "ty", "type": "quantitative", "axis": null},
          "text": {"field": "t"}
        }}
      ]
    }
  ]
}
